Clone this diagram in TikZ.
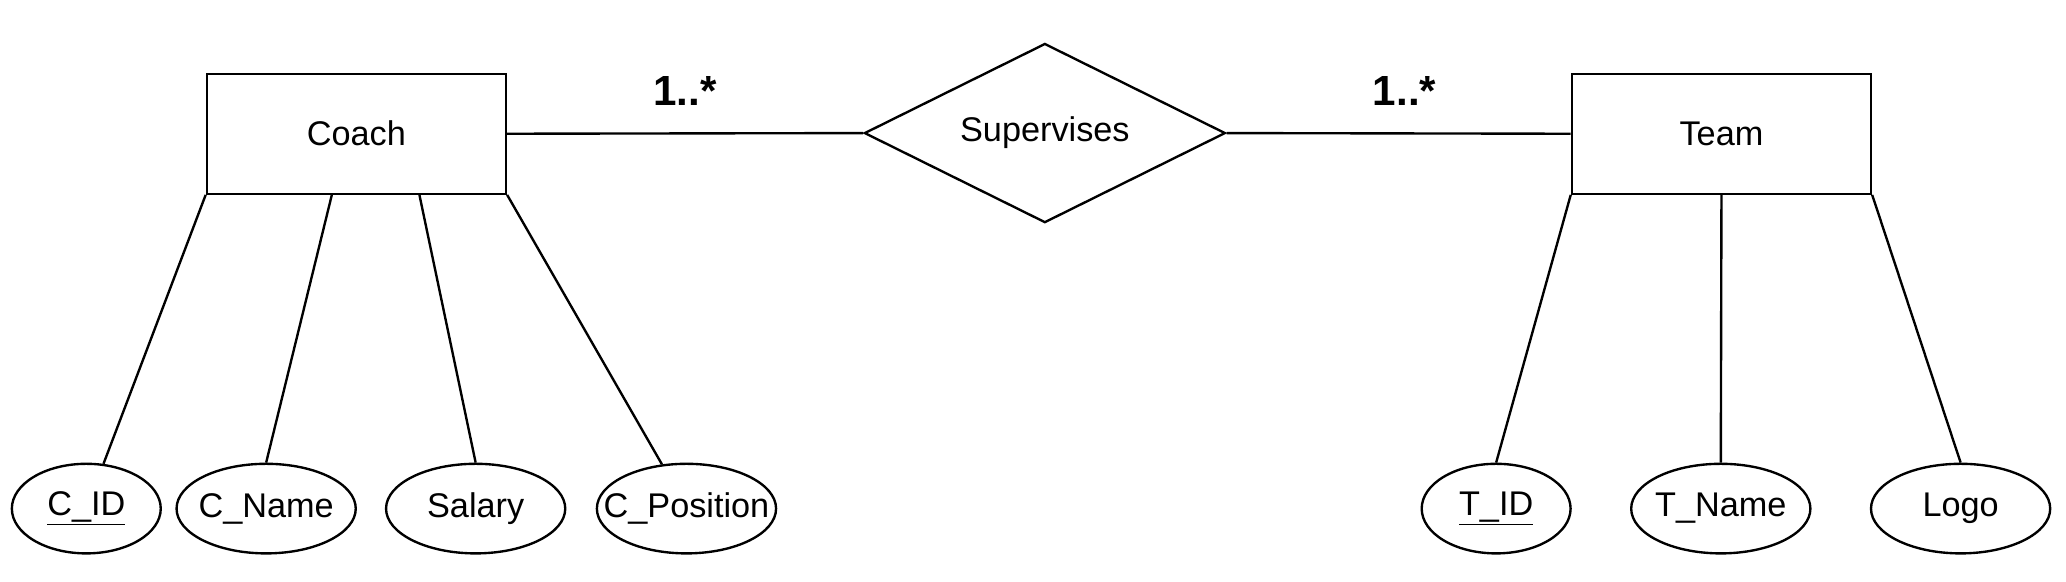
\documentclass[tikz,border=0pt]{standalone}
\usepackage{fontspec}
\setmainfont{Liberation Sans}
\usetikzlibrary{shapes.geometric,calc}
\newcommand{\zw}[1]{\makebox[0pt]{#1}}
\begin{document}
\begin{tikzpicture}[x=1pt,y=-1pt,
  every node/.style={font=\fontsize{26}{30}\selectfont},
  ent/.style={draw,line width=1.8pt,rectangle,minimum width=227pt,minimum height=91pt,inner sep=0pt},
  rel/.style={draw,line width=1.8pt,diamond,minimum width=274pt,minimum height=136pt,inner sep=0pt},
  attr/.style={draw,line width=1.8pt,ellipse,minimum width=136pt,minimum height=68pt,inner sep=0pt},
  conn/.style={line width=1.8pt},
  card/.style={font=\fontsize{32}{38}\selectfont\bfseries,anchor=base,inner sep=0pt}]
\useasboundingbox (0,0) rectangle (1568,441);
\node[ent] (coach) at (270.5,101.5) {Coach};
\node[ent] (team) at (1306.5,101.5) {Team};
\node[rel] (sup) at (793,101) {\zw{Supervises}};
\node[attr,minimum width=113pt] (cid) at (65.5,386) {\zw{\underline{C\_ID}}};
\node[attr] (cname) at (202,386) {\zw{C\_Name}};
\node[attr] (salary) at (361,386) {\zw{Salary}};
\node[attr] (cpos) at (521,386) {\zw{C\_Position}};
\node[attr,minimum width=113pt] (tid) at (1135.5,386) {\zw{\underline{T\_ID}}};
\node[attr] (tname) at (1306,386) {\zw{T\_Name}};
\node[attr] (logo) at (1488,386) {\zw{Logo}};
\node[card] (c1) at (520,80) {1..*};
\node[card] (c2) at (1066,80) {1..*};
\coordinate (ca) at ($(coach.south west)!0.4185!(coach.south east)$);
\coordinate (cb) at ($(coach.south west)!0.709!(coach.south east)$);
\draw[conn] (coach.east) -- (sup.west);
\draw[conn] (sup.east) -- (team.west);
\draw[conn] (coach.south west) -- (cid.69);
\draw[conn] (ca) -- (cname.north);
\draw[conn] (cb) -- (salary.north);
\draw[conn] (coach.south east) -- (cpos.119);
\draw[conn] (team.south west) -- (tid.north);
\draw[conn] (team.south) -- (tname.north);
\draw[conn] (team.south east) -- (logo.north);
\end{tikzpicture}
\end{document}
